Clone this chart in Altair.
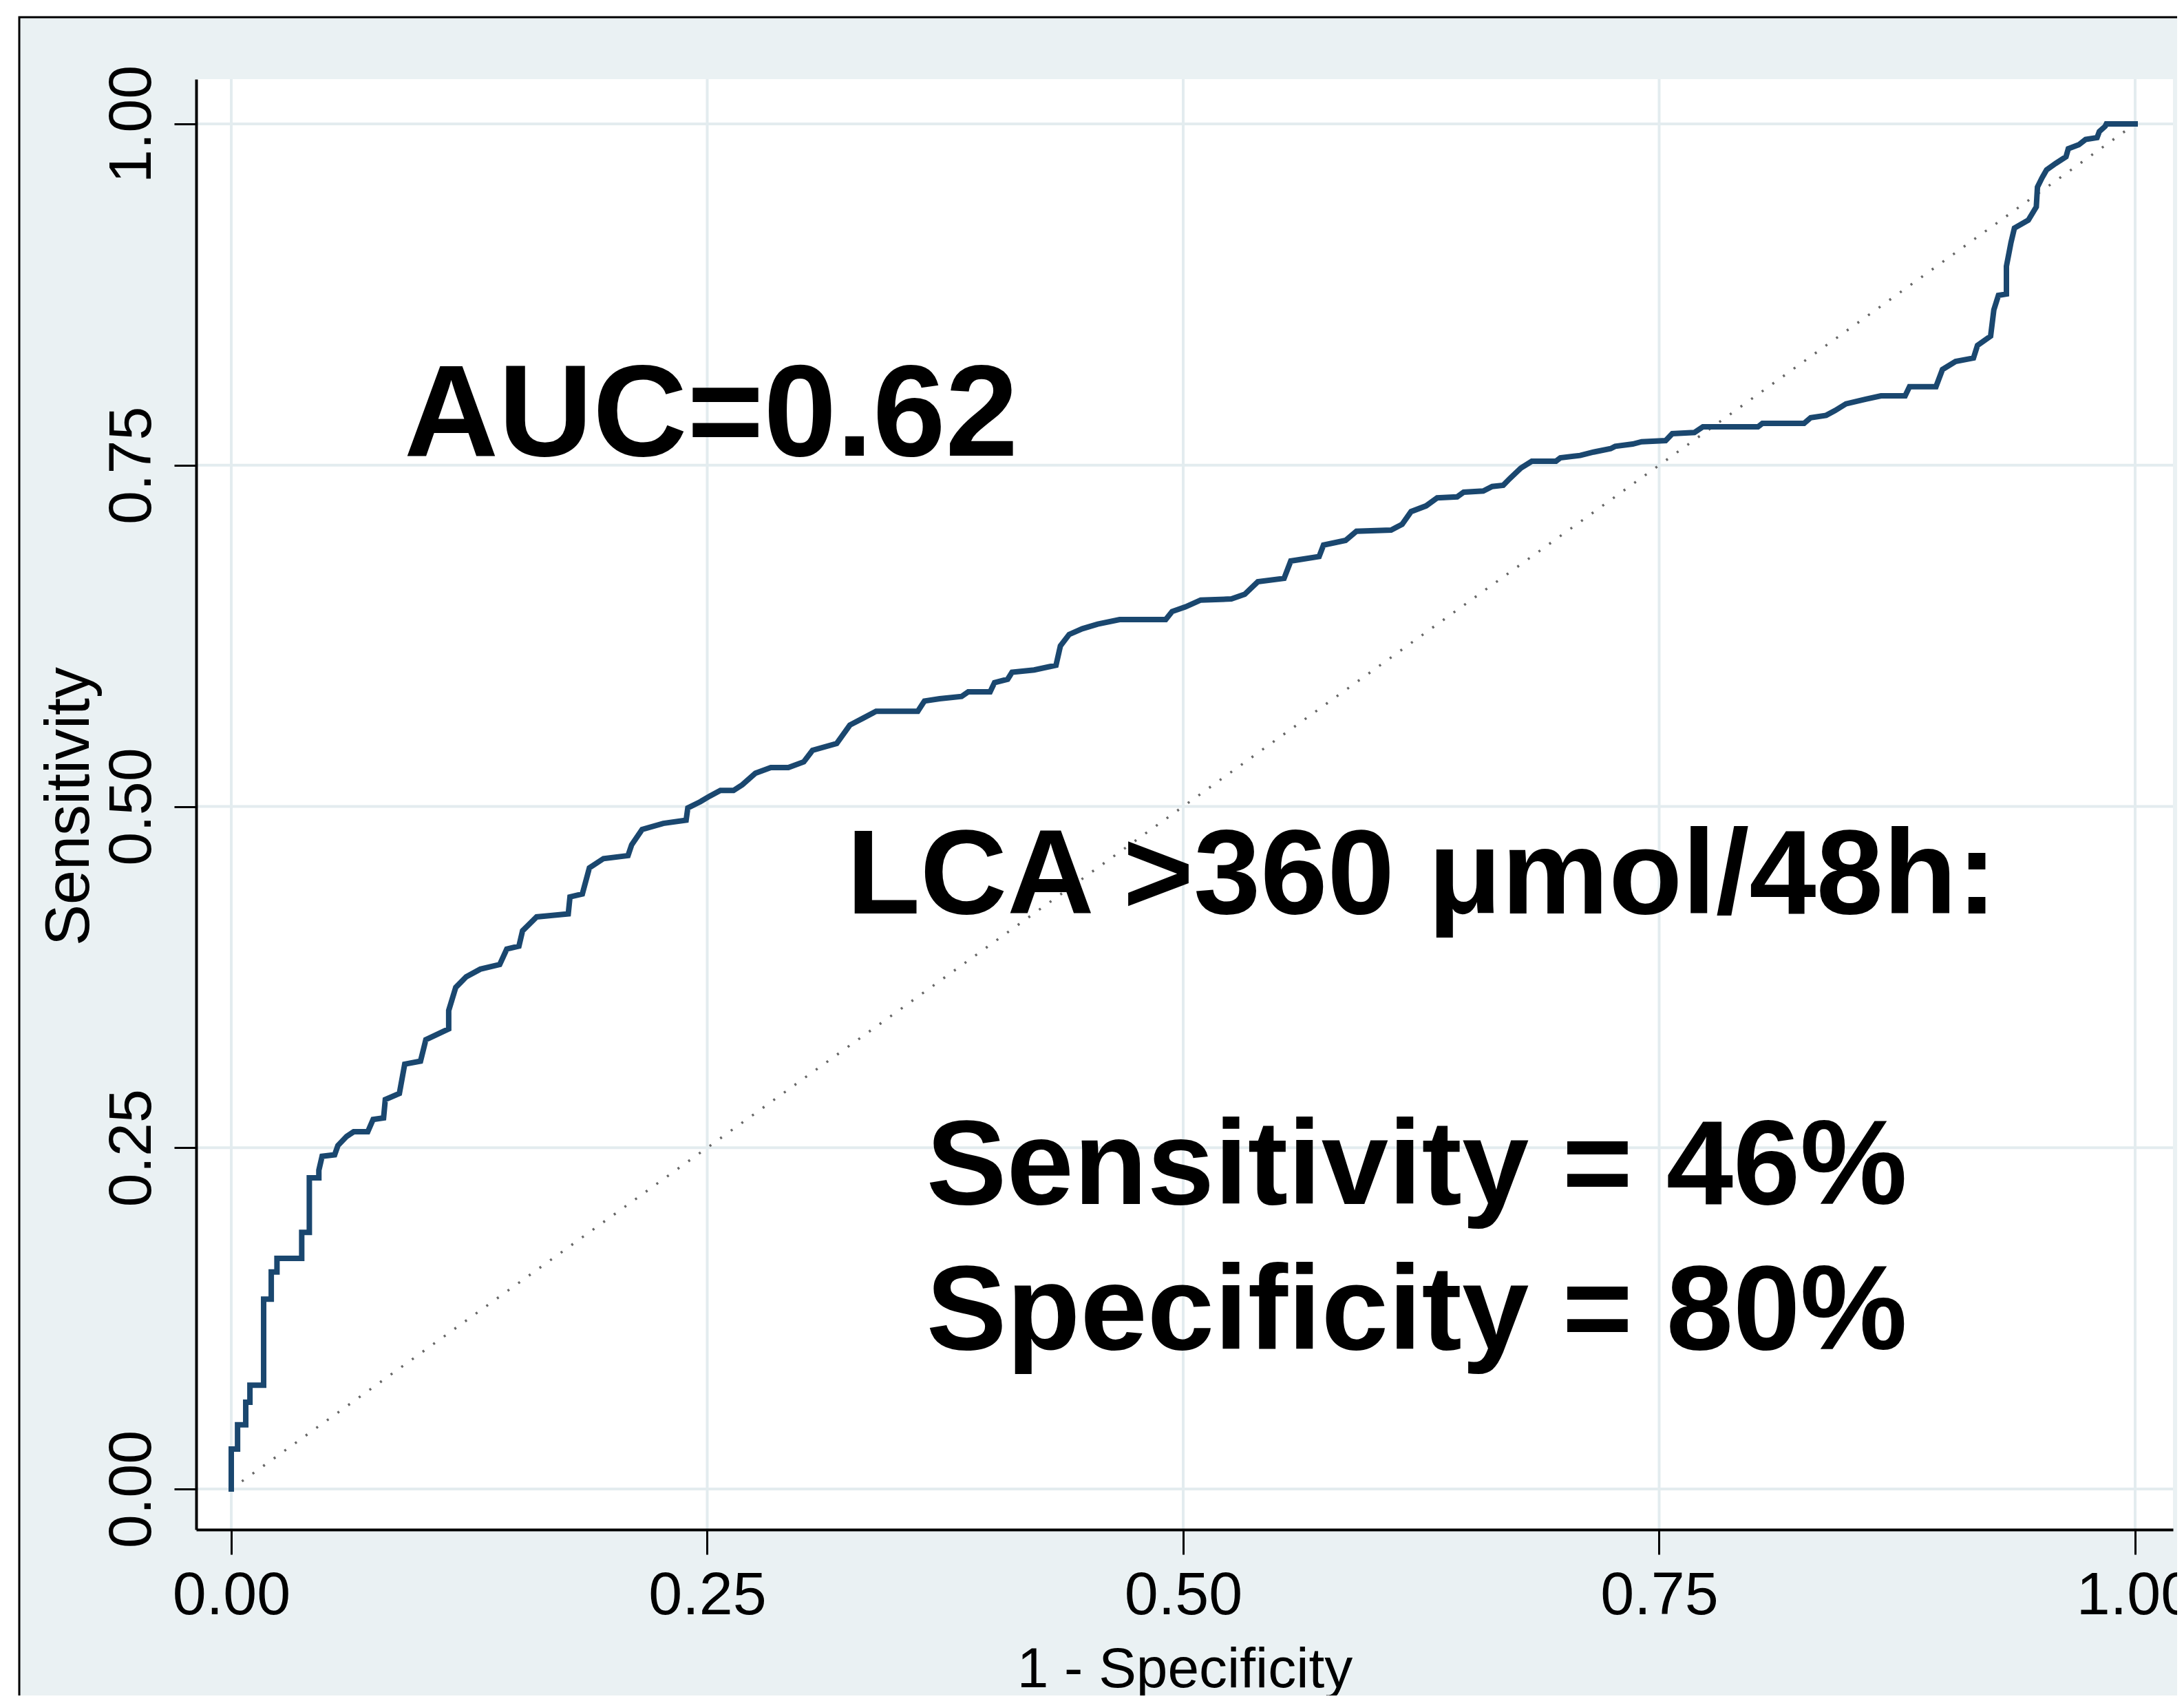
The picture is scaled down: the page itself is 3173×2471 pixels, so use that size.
import altair as alt
import pandas as pd

# ROC curve (1 - specificity, sensitivity)
roc_x = [0.0, 0.0, 0.0033, 0.0033, 0.0076, 0.0076, 0.0098, 0.0098, 0.017, 0.017,
         0.021, 0.021, 0.024, 0.024, 0.037, 0.037, 0.041, 0.041, 0.046, 0.046,
         0.0477, 0.0543, 0.0560, 0.0606, 0.0643, 0.0717, 0.0745, 0.0800, 0.0809, 0.0883,
         0.0911, 0.0994, 0.1022, 0.1142, 0.1142, 0.1179, 0.1234, 0.1308, 0.1410, 0.1447,
         0.1511, 0.1530, 0.1604, 0.1687, 0.1770, 0.1779, 0.1844, 0.1881, 0.1955, 0.2084,
         0.2103, 0.2158, 0.2269, 0.2389, 0.2398, 0.2463,
         0.2512, 0.2569, 0.2638, 0.2684, 0.2753, 0.2834, 0.2926, 0.3007, 0.3053, 0.3180,
         0.3249, 0.3318, 0.3387, 0.3606, 0.3641, 0.3721, 0.3836, 0.3871, 0.3986, 0.4009,
         0.4078, 0.4101, 0.4217, 0.4332, 0.4355, 0.4401, 0.4470, 0.4551, 0.4666, 0.4908,
         0.4942, 0.5012, 0.5092, 0.5253, 0.5323, 0.5392, 0.5530, 0.5565, 0.5714, 0.5737,
         0.5853, 0.5910,
         0.6092, 0.6150, 0.6197, 0.6276, 0.6334, 0.6439, 0.6473, 0.6576, 0.6623, 0.6681,
         0.6716, 0.6774, 0.6831, 0.6958, 0.6981, 0.7085, 0.7155, 0.7245, 0.7269, 0.7361,
         0.7408, 0.7534, 0.7569, 0.7685, 0.7730, 0.8019, 0.8042, 0.8261, 0.8296, 0.8377,
         0.8423, 0.8481, 0.8585, 0.8665, 0.8792, 0.8815, 0.8954, 0.8988, 0.9057, 0.9151,
         0.9172, 0.9241,
         0.9258, 0.9282, 0.9324, 0.9324, 0.9348, 0.9366, 0.9439, 0.9481, 0.9487, 0.9511,
         0.9535, 0.9583, 0.9637, 0.9649, 0.9704, 0.9740, 0.9800, 0.9812, 0.9843, 0.9849,
         1.0]
roc_y = [0.0, 0.0292, 0.0292, 0.047, 0.047, 0.0635, 0.0635, 0.076, 0.076, 0.139,
         0.139, 0.159, 0.159, 0.169, 0.169, 0.188, 0.188, 0.228, 0.228, 0.2335,
         0.2437, 0.2448, 0.2516, 0.2583, 0.2617, 0.2617, 0.2707, 0.2718, 0.2853, 0.2898,
         0.3112, 0.3134, 0.3291, 0.3370, 0.3505, 0.3674, 0.3752, 0.3808, 0.3842, 0.3955,
         0.3977, 0.4089, 0.4191, 0.4202, 0.4213, 0.4337, 0.4359, 0.4550, 0.4618, 0.4640,
         0.4719, 0.4831, 0.4876, 0.4899, 0.4989, 0.5034,
         0.5075, 0.5117, 0.5117, 0.5159, 0.5243, 0.5285, 0.5285, 0.5327, 0.5411, 0.5461,
         0.5596, 0.5646, 0.5697, 0.5697, 0.5772, 0.5789, 0.5806, 0.5840, 0.5840, 0.5907,
         0.5932, 0.5983, 0.6000, 0.6034, 0.6176, 0.6260, 0.6302, 0.6336, 0.6369, 0.6369,
         0.6428, 0.6462, 0.6512, 0.6520, 0.6554, 0.6646, 0.6671, 0.6798, 0.6831, 0.6915,
         0.6949, 0.7016,
         0.7025, 0.7067, 0.7160, 0.7202, 0.7261, 0.7268, 0.7302, 0.7311, 0.7344, 0.7353,
         0.7403, 0.7479, 0.7529, 0.7529, 0.7554, 0.7571, 0.7596, 0.7621, 0.7638, 0.7655,
         0.7672, 0.7680, 0.7731, 0.7739, 0.7781, 0.7781, 0.7806, 0.7806, 0.7848, 0.7865,
         0.7899, 0.7949, 0.7983, 0.8008, 0.8008, 0.8075, 0.8075, 0.8201, 0.8260, 0.8285,
         0.8378, 0.8445,
         0.8638, 0.8744, 0.8754, 0.8957, 0.9131, 0.9237, 0.9295, 0.9392, 0.9537, 0.9605,
         0.9663, 0.9711, 0.9760, 0.9818, 0.9847, 0.9886, 0.9899, 0.9944, 0.9983, 1.0,
         1.0]

# Reference (chance) line
ref_x = [0.0, 1.0]
ref_y = [0.0, 1.0]

# Axis ticks
tick_values = [0.0, 0.25, 0.5, 0.75, 1.0]

# Annotations
ann_text = ["AUC=0.62", "LCA >360 \u03bcmol/48h:", "Sensitivity = 46%", "Specificity = 80%"]
ann_x = [0.0907, 0.3232, 0.3651, 0.3651]
ann_y = [0.757, 0.4216, 0.2088, 0.1024]
ann_size = [190, 175, 175, 175]

W, H = 2872, 2107
XDOM = [-0.01844, 1.01989]
YDOM = [-0.02975, 1.03278]

BG = "#EAF1F3"
NAVY = "#1A476F"
SANS = "Liberation Sans, Arial, sans-serif"

roc_df = pd.DataFrame({"fpr": roc_x, "tpr": roc_y, "order": list(range(len(roc_x)))})
ref_df = pd.DataFrame({"fpr": ref_x, "tpr": ref_y})
ann_df = pd.DataFrame({"label": ann_text, "x": ann_x, "y": ann_y, "size": ann_size})
grid_df = pd.DataFrame({"v": tick_values})

xscale = alt.Scale(domain=XDOM, nice=False, zero=False)
yscale = alt.Scale(domain=YDOM, nice=False, zero=False)

# Figure frame (outer light panel with black border) and white plot region
frame = alt.Chart(grid_df.head(1)).mark_rect(
    fill=BG, stroke="black", strokeWidth=3
).encode(
    x=alt.value(-257), x2=alt.value(W + 200),
    y=alt.value(-90), y2=alt.value(H + 600),
)
plot_bg = alt.Chart(grid_df.head(1)).mark_rect(fill="white").encode(
    x=alt.value(0), x2=alt.value(W), y=alt.value(0), y2=alt.value(H)
)

vgrid = alt.Chart(grid_df).mark_rule(color="#E3ECEF", strokeWidth=4).encode(
    x=alt.X("v:Q", scale=xscale), y=alt.value(0), y2=alt.value(H)
)
hgrid = alt.Chart(grid_df).mark_rule(color="#E3ECEF", strokeWidth=4).encode(
    y=alt.Y("v:Q", scale=yscale), x=alt.value(0), x2=alt.value(W)
)

ref = alt.Chart(ref_df).mark_line(
    color="#666666", strokeWidth=3.5, strokeDash=[3, 16]
).encode(
    x=alt.X("fpr:Q", scale=xscale), y=alt.Y("tpr:Q", scale=yscale)
)

roc = alt.Chart(roc_df).mark_line(
    color=NAVY, strokeWidth=8, strokeJoin="miter", strokeCap="square"
).encode(
    x=alt.X(
        "fpr:Q", scale=xscale, title="1 - Specificity",
        axis=alt.Axis(
            values=tick_values, format=".2f", grid=False, zindex=1,
            domainColor="black", domainWidth=4,
            tickColor="black", tickWidth=3, tickSize=36,
            labelFont=SANS, labelFontSize=88, labelColor="black",
            labelPadding=16, labelFlush=False, labelOverlap=False, labelLimit=0,
            titleFont=SANS, titleFontSize=82, titleFontWeight="normal",
            titleColor="black", titleBaseline="alphabetic", titleY=228,
            titleX=W * 0.5, titleAlign="center", titleLimit=0,
        ),
    ),
    y=alt.Y(
        "tpr:Q", scale=yscale, title="Sensitivity",
        axis=alt.Axis(
            values=tick_values, format=".2f", grid=False, zindex=1,
            domainColor="black", domainWidth=4,
            tickColor="black", tickWidth=3, tickSize=32,
            labelFont=SANS, labelFontSize=88, labelColor="black",
            labelAngle=270, labelAlign="center", labelBaseline="alphabetic",
            labelPadding=35, labelFlush=False, labelOverlap=False, labelLimit=0,
            titleFont=SANS, titleFontSize=90, titleFontWeight="normal",
            titleColor="black", titleAngle=270, titleBaseline="alphabetic",
            titleAlign="center", titleX=-157, titleY=1056, titleLimit=0,
        ),
    ),
    order="order:Q",
)

ann = alt.Chart(ann_df).mark_text(
    align="left", baseline="alphabetic", font=SANS, fontWeight="bold", color="black"
).encode(
    x=alt.X("x:Q", scale=xscale),
    y=alt.Y("y:Q", scale=yscale),
    text="label:N",
    size=alt.Size("size:Q", scale=None, legend=None),
)

chart = alt.layer(frame, plot_bg, vgrid, hgrid, ref, roc, ann).properties(
    width=W, height=H,
    autosize=alt.AutoSizeParams(type="none"),
    padding={"left": 277, "top": 107, "right": 6, "bottom": 241},
    background="white",
).configure_view(stroke=None, fill=None)

chart.save("out.html", embed_options={"renderer": "svg", "actions": False})
